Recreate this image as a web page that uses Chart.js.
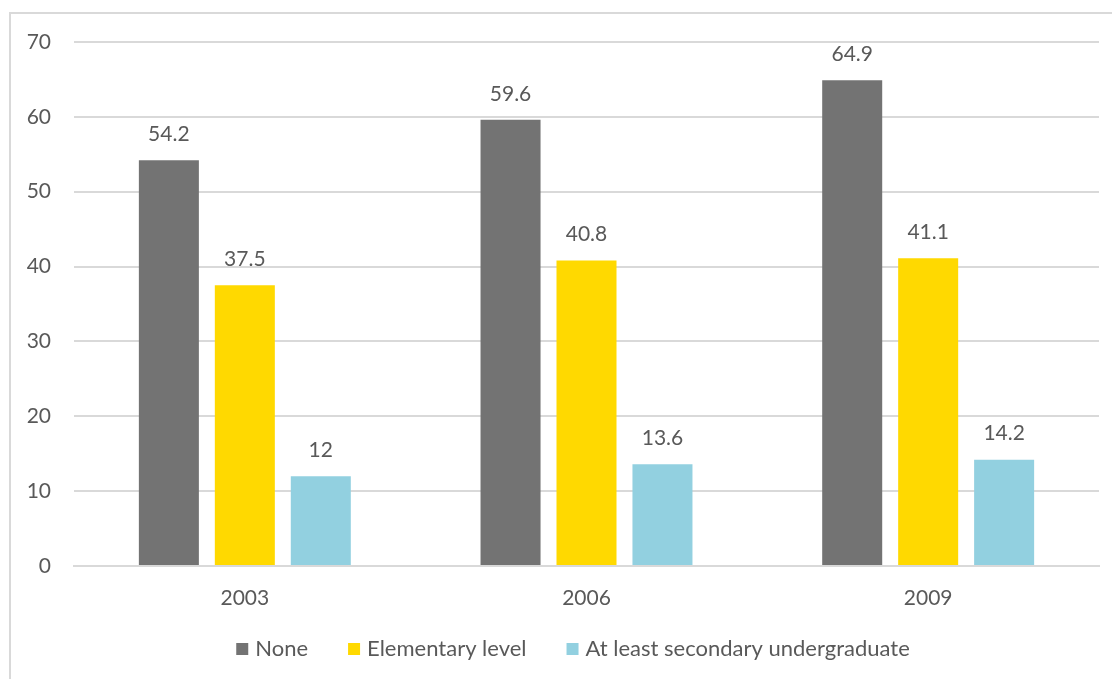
<!DOCTYPE html>
<html>
<head>
<meta charset="utf-8">
<script src="https://cdn.jsdelivr.net/npm/chart.js@4.4.0/dist/chart.umd.min.js"></script>
<style>
html,body{margin:0;padding:0;background:#fff;}
#frame{position:absolute;left:9px;top:12px;width:1120px;height:700px;border:2px solid #d9d9d9;box-sizing:border-box;}
#wrap{position:absolute;left:0;top:0;width:1112px;height:679px;}
</style>
</head>
<body>
<div id="frame"></div>
<div id="wrap"><canvas id="c" width="1112" height="679"></canvas></div>
<script>
const categories = ["2003", "2006", "2009"];
const seriesNames = ["None", "Elementary level", "At least secondary undergraduate"];
const noneValues = [54.2, 59.6, 64.9];
const elementaryValues = [37.5, 40.8, 41.1];
const secondaryValues = [12, 13.6, 14.2];
const yTicks = [0, 10, 20, 30, 40, 50, 60, 70];
const colors = ["#737373", "#FFD900", "#92D0E0"];

const FONT = "Lato, 'Open Sans', sans-serif";
const TEXT = "#595959";

const labelPlugin = {
  id: 'valLabels',
  afterDatasetsDraw(chart) {
    const ctx = chart.ctx;
    ctx.save();
    ctx.font = "21px " + FONT;
    ctx.fillStyle = TEXT;
    ctx.textAlign = 'center';
    ctx.textBaseline = 'middle';
    chart.data.datasets.forEach((ds, i) => {
      const meta = chart.getDatasetMeta(i);
      meta.data.forEach((bar, j) => {
        ctx.fillText(String(ds.data[j]), bar.x, bar.y - 26);
      });
    });
    ctx.restore();
  }
};

const legendPlugin = {
  id: 'customLegend',
  afterDraw(chart) {
    const ctx = chart.ctx;
    ctx.save();
    ctx.font = "22px " + FONT;
    ctx.textBaseline = 'middle';
    const box = 12, gapBoxText = 7, gapItems = 40;
    const items = chart.data.datasets.map(d => ({label: d.label, color: d.backgroundColor, w: ctx.measureText(d.label).width}));
    let total = 0;
    items.forEach((it, i) => { total += box + gapBoxText + it.w + (i < items.length - 1 ? gapItems : 0); });
    let x = 573 - total / 2;
    const y = 649;
    items.forEach(it => {
      ctx.fillStyle = it.color;
      ctx.fillRect(x, y - box / 2, box, box);
      x += box + gapBoxText;
      ctx.fillStyle = TEXT;
      ctx.textAlign = 'left';
      ctx.fillText(it.label, x, y);
      x += it.w + gapItems;
    });
    ctx.restore();
  }
};

new Chart(document.getElementById('c'), {
  type: 'bar',
  data: {
    labels: categories,
    datasets: [
      {label: seriesNames[0], data: noneValues, backgroundColor: colors[0]},
      {label: seriesNames[1], data: elementaryValues, backgroundColor: colors[1]},
      {label: seriesNames[2], data: secondaryValues, backgroundColor: colors[2]}
    ]
  },
  options: {
    responsive: false,
    animation: false,
    devicePixelRatio: 1,
    layout: {padding: {top: 42, right: 13, left: 0, bottom: 0}},
    datasets: {bar: {categoryPercentage: 0.667, barPercentage: 0.79}},
    plugins: {legend: {display: false}, tooltip: {enabled: false}},
    scales: {
      x: {
        grid: {display: false, drawTicks: false},
        border: {display: true, color: '#d9d9d9', width: 2},
        ticks: {color: TEXT, font: {family: FONT, size: 21}, padding: 20},
        afterFit(s) { s.height = 113; }
      },
      y: {
        min: 0, max: 70,
        afterBuildTicks(s) { s.ticks = yTicks.map(v => ({value: v})); },
        grid: {color: '#d9d9d9', lineWidth: 2, drawTicks: false},
        border: {display: false},
        ticks: {color: TEXT, font: {family: FONT, size: 21}, padding: 23},
        afterFit(s) { s.width = 74; }
      }
    }
  },
  plugins: [labelPlugin, legendPlugin]
});
</script>
</body>
</html>
